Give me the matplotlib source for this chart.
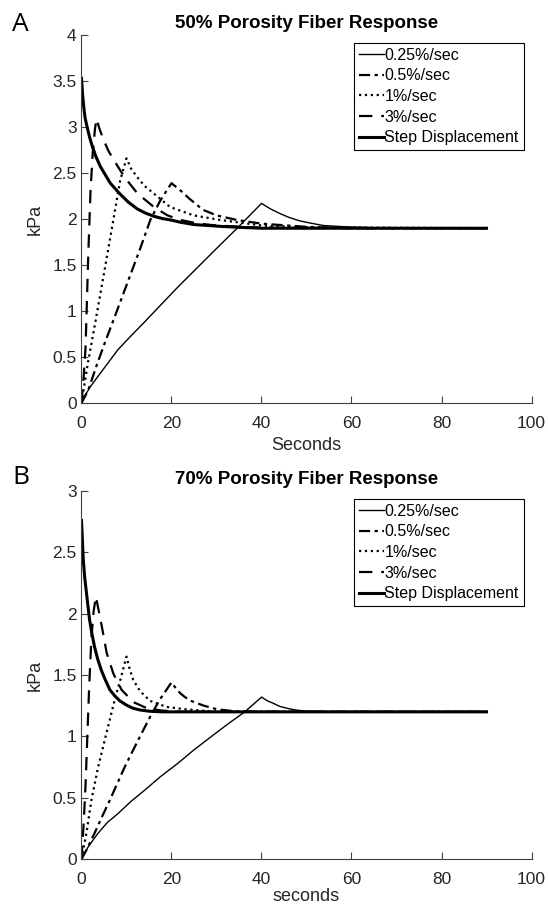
import matplotlib
matplotlib.use('Agg')
import matplotlib.pyplot as plt

plt.rcParams['font.family'] = ['Liberation Sans', 'DejaVu Sans']

# ---- 50% porosity (panel A) ----
a_t025 = [0, 1, 2, 3.67, 5.5, 8.1, 11, 14, 17.5, 21.4, 25.5, 29.6, 35, 40, 42, 44.1, 46, 48.5, 51, 53.7, 58.9, 65, 90]
a_y025 = [0, 0.1, 0.18, 0.29, 0.41, 0.58, 0.73, 0.88, 1.06, 1.26, 1.46, 1.66, 1.92, 2.17, 2.11, 2.06, 2.02, 1.98, 1.955, 1.93, 1.915, 1.905, 1.9]
a_t05 = [0, 1.5, 3.3, 5.3, 7.4, 10, 12.9, 15.3, 17.5, 20, 21, 22, 24, 27, 30, 34.5, 40, 50, 60, 90]
a_y05 = [0, 0.14, 0.4, 0.67, 0.94, 1.28, 1.66, 1.99, 2.2, 2.39, 2.35, 2.31, 2.22, 2.1, 2.04, 1.99, 1.95, 1.915, 1.9, 1.9]
a_t1 = [0, 1.3, 3.3, 5.9, 8.6, 10, 11, 12.3, 14, 16, 19.7, 24.9, 30.8, 40, 50, 90]
a_y1 = [0, 0.4, 0.94, 1.66, 2.42, 2.66, 2.55, 2.46, 2.36, 2.28, 2.13, 2.04, 1.99, 1.93, 1.91, 1.9]
a_t3 = [0, 0.5, 0.9, 1.2, 1.5, 2.0, 2.5, 3.0, 3.33, 4, 5, 6, 7.2, 9.5, 12.4, 16.1, 19.1, 22, 26, 30, 40, 90]
a_y3 = [0, 0.3, 0.6, 1.1, 1.6, 2.3, 2.72, 2.98, 3.09, 2.98, 2.85, 2.74, 2.64, 2.46, 2.28, 2.13, 2.04, 1.99, 1.95, 1.93, 1.905, 1.9]
a_ts = [0, 0.25, 0.5, 0.8, 1.25, 1.8, 2.4, 3.2, 4.2, 5.3, 6.4, 7.5, 8.6, 10.5, 12.4, 14.2, 16.1, 18, 19.8, 22, 25, 28, 31, 35, 40, 90]
a_ys = [3.53, 3.35, 3.22, 3.1, 3.0, 2.89, 2.79, 2.68, 2.57, 2.48, 2.39, 2.33, 2.27, 2.18, 2.11, 2.065, 2.03, 2.005, 1.99, 1.965, 1.94, 1.93, 1.92, 1.91, 1.9, 1.9]

# ---- 70% porosity (panel B) ----
b_t025 = [0, 1.5, 3.67, 5.8, 8.1, 11, 14, 17.5, 21.4, 25, 28.9, 32.5, 36.3, 40, 41.3, 42.6, 44, 45.6, 47.5, 50, 55, 90]
b_y025 = [0, 0.1, 0.21, 0.3, 0.37, 0.47, 0.56, 0.67, 0.78, 0.89, 1.0, 1.1, 1.2, 1.32, 1.29, 1.27, 1.245, 1.23, 1.215, 1.205, 1.2, 1.2]
b_t05 = [0, 1.2, 2.9, 4.5, 6.3, 8, 9.6, 11.5, 13.3, 15.4, 17.4, 20, 21, 22, 23, 24.3, 25.7, 27.2, 30.2, 34, 40, 90]
b_y05 = [0, 0.08, 0.21, 0.34, 0.48, 0.62, 0.75, 0.89, 1.02, 1.17, 1.3, 1.44, 1.39, 1.35, 1.32, 1.29, 1.27, 1.25, 1.22, 1.205, 1.2, 1.2]
b_t1 = [0, 0.5, 1.1, 2.2, 3.7, 5.5, 7.4, 8.7, 10, 10.7, 11.5, 13, 15.2, 18.9, 23.3, 30, 90]
b_y1 = [0, 0.1, 0.21, 0.48, 0.75, 1.02, 1.3, 1.47, 1.65, 1.55, 1.46, 1.37, 1.29, 1.24, 1.22, 1.2, 1.2]
b_t3 = [0, 0.5, 0.9, 1.3, 1.7, 2.2, 2.7, 3.2, 3.8, 4.5, 5.6, 7.1, 8.9, 11.5, 14.5, 18, 22, 90]
b_y3 = [0, 0.3, 0.6, 1.0, 1.4, 1.8, 2.02, 2.14, 2.03, 1.9, 1.68, 1.51, 1.38, 1.28, 1.23, 1.21, 1.2, 1.2]
b_ts = [0, 0.2, 0.4, 0.7, 1.1, 1.45, 1.8, 2.3, 2.9, 3.6, 4.4, 5.3, 6.3, 7.4, 8.5, 10, 11.4, 13, 15.1, 18, 22, 90]
b_ys = [2.76, 2.6, 2.44, 2.3, 2.17, 2.06, 1.95, 1.84, 1.73, 1.63, 1.54, 1.46, 1.38, 1.33, 1.29, 1.255, 1.23, 1.215, 1.205, 1.2, 1.2, 1.2]

labels = ['0.25%/sec', '0.5%/sec', '1%/sec', '3%/sec', 'Step Displacement']

fig = plt.figure(figsize=(5.48, 9.10), dpi=100)
ax1 = fig.add_axes([0.1487, 0.5571, 0.8212, 0.4044])
ax2 = fig.add_axes([0.1487, 0.0560, 0.8212, 0.4044])

def panel(ax, data, title, ylim, yticks, xlabel, xlpad):
    (t1, y1), (t2, y2), (t3, y3), (t4, y4), (t5, y5) = data
    ax.plot(t1, y1, '-', color='black', lw=1.0, label=labels[0])
    ax.plot(t2, y2, color='black', lw=1.6, linestyle=(0, (5, 2, 1.5, 2)), label=labels[1])
    ax.plot(t3, y3, ':', color='black', lw=1.6, label=labels[2])
    ax.plot(t4, y4, color='black', lw=1.6, linestyle=(0, (6, 4)), label=labels[3])
    ax.plot(t5, y5, '-', color='black', lw=2.2, label=labels[4])
    ax.set_xlim(0, 100)
    ax.set_ylim(*ylim)
    ax.set_yticks(yticks)
    ax.set_yticklabels([('%g' % v) for v in yticks])
    ax.set_xticks([0, 20, 40, 60, 80, 100])
    ax.spines['top'].set_visible(False)
    ax.spines['right'].set_visible(False)
    for s in ['left', 'bottom']:
        ax.spines[s].set_color('0.25')
        ax.spines[s].set_linewidth(0.8)
    ax.tick_params(direction='in', length=5, width=0.8, colors='0.25',
                   labelsize=12.5, labelcolor='0.15')
    ax.tick_params(axis='x', pad=9)
    ax.set_title(title, fontsize=13.5, fontweight='bold', pad=5)
    ax.set_xlabel(xlabel, fontsize=13, color='0.15', labelpad=xlpad)
    ax.set_ylabel('kPa', fontsize=13, color='0.15', labelpad=6)
    leg = ax.legend(loc='upper right', fontsize=11.5, handlelength=1.6,
                    handletextpad=0.0, labelspacing=0.35, borderpad=0.3,
                    fancybox=False, framealpha=1, borderaxespad=0.5)
    leg.get_frame().set_edgecolor('black')
    leg.get_frame().set_linewidth(0.8)

panel(ax1, [(a_t025, a_y025), (a_t05, a_y05), (a_t1, a_y1), (a_t3, a_y3), (a_ts, a_ys)],
      '50% Porosity Fiber Response', (0, 4), [0, 0.5, 1, 1.5, 2, 2.5, 3, 3.5, 4], 'Seconds', 5)
panel(ax2, [(b_t025, b_y025), (b_t05, b_y05), (b_t1, b_y1), (b_t3, b_y3), (b_ts, b_ys)],
      '70% Porosity Fiber Response', (0, 3), [0, 0.5, 1, 1.5, 2, 2.5, 3], 'seconds', 1)

fig.text(0.022, 0.973, 'A', fontsize=19, family=['Open Sans', 'DejaVu Sans'], va='center')
fig.text(0.022, 0.475, 'B', fontsize=19, family=['Open Sans', 'DejaVu Sans'], va='center')

fig.savefig('out.png', dpi=100)
